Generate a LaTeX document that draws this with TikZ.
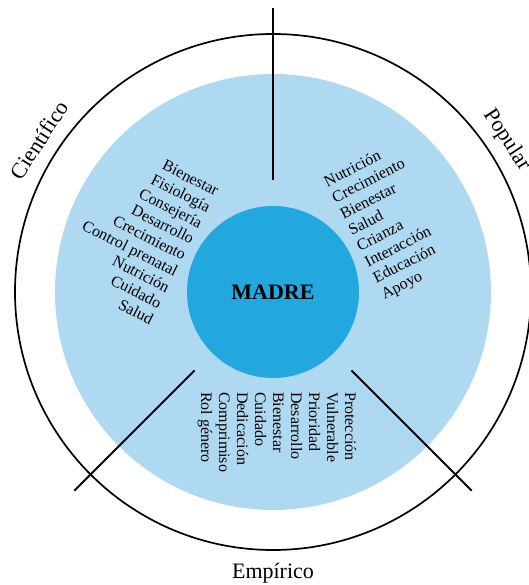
\documentclass[tikz,border=0pt]{standalone}
\usepackage{fontspec}
\setmainfont{Liberation Serif}
\definecolor{cielo}{RGB}{174,217,241}
\definecolor{azul}{RGB}{34,167,223}
\begin{document}
\begin{tikzpicture}[x=1pt, y=1pt]
\tikzset{ eje/.style={line width=1.8pt}, lista/.style={inner sep=0pt, font=\fontsize{16}{18}\selectfont}, titulo/.style={font=\fontsize{22}{24}\selectfont}, }

%\draw [lightgray, dashed] (-273,-293) grid[step=50] (255,292);
\useasboundingbox (-273,-293) rectangle (255,292);

\fill [cielo] (0,0) circle (218);
\node [fill=azul, circle, minimum size=172, inner sep=0pt, font=\bfseries\fontsize{22}{24}\selectfont] (M) at (0,0) {MADRE};
\draw [line width=1.7pt] (0,0) circle (258);

\coordinate (A1) at (90:112);
\coordinate (A2) at (90:284);
\coordinate (B1) at (225:111);
\coordinate (B2) at (225:281);
\coordinate (C1) at (-45:111);
\coordinate (C2) at (-45:281);

\draw [eje] (A1) -- (A2);
\draw [eje] (B1) -- (B2);
\draw [eje] (C1) -- (C2);

\node [titulo, rotate=57]  (cien) at (147:279) {Científico};
\node [titulo, rotate=-57] (pop)  at (33:279)  {Popular};
\node [titulo]             (emp)  at (270:281) {Empírico};

\node [lista, align=right, rotate=-27, anchor=east] (ciencia) at (-88,36)
  {Bienestar\\Fisiología\\Consejería\\Desarrollo\\Crecimiento\\Control prenatal\\Nutrición\\Cuidado\\Salud};
\node [lista, align=left, rotate=27, anchor=west] (saber) at (81,52)
  {Nutrición\\Crecimiento\\Bienestar\\Salud\\Crianza\\Interacción\\Educación\\Apoyo};
\node [lista, align=left, rotate=-90, anchor=west] (vivencia) at (4,-100)
  {Protección\\Vulnerable\\Prioridad\\Desarrollo\\Bienestar\\Cuidado\\Dedicación\\Comprimiso\\Rol género};

\end{tikzpicture}
\end{document}
